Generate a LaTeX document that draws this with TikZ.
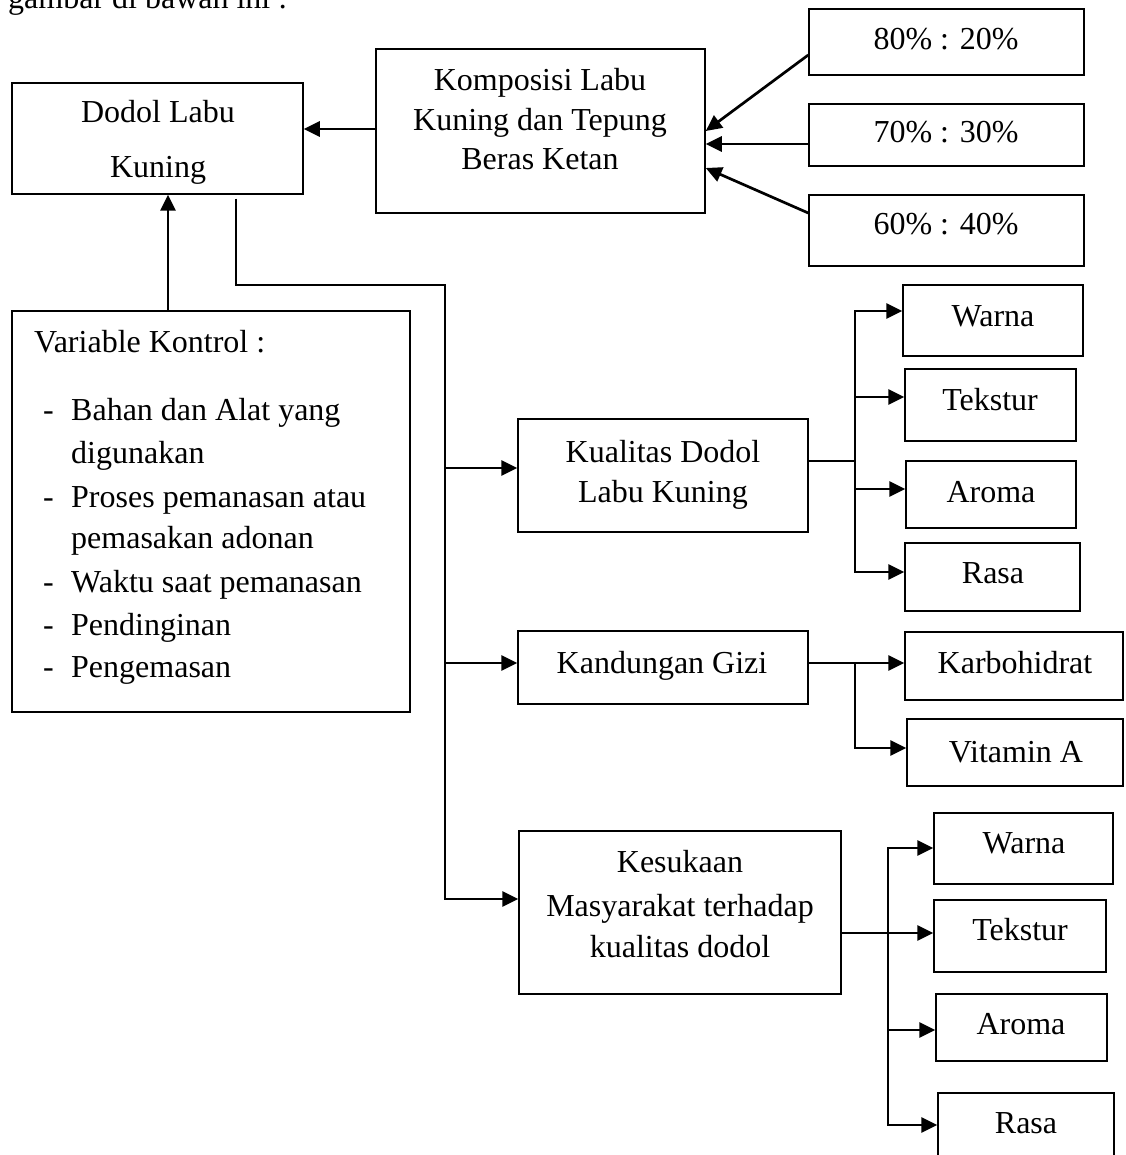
\documentclass[tikz,border=0pt]{standalone}
\usepackage{fontspec}
\setmainfont{Liberation Serif}
\usetikzlibrary{arrows.meta,fit}
\begin{document}
\begin{tikzpicture}[x=1pt,y=-1pt,
  box/.style={draw, line width=1.5pt, inner sep=0pt},
  txt/.style={inner sep=0pt, anchor=base, font=\fontsize{32}{40}\selectfont},
  txtl/.style={txt, anchor=base west},
  conn/.style={line width=1.9pt},
  arr/.style={line width=2.7pt, -{Triangle[length=16pt,width=15pt]}}]
\useasboundingbox (0,0) rectangle (1125,1155);

% intro line (cut off at top)
\node[txtl] (intro) at (8,9) {gambar di bawah ini :};

% boxes
\node[box, fit={(12,83) (303,194)}] (dodol) {};
\node[box, fit={(376,49) (705,213)}] (komp) {};
\node[box, fit={(809,9) (1084,75)}] (p80) {};
\node[box, fit={(809,104) (1084,166)}] (p70) {};
\node[box, fit={(809,195) (1084,266)}] (p60) {};
\node[box, fit={(12,311) (410,712)}] (vk) {};
\node[box, fit={(518,419) (808,532)}] (kual) {};
\node[box, fit={(903,285) (1083,356)}] (warnaA) {};
\node[box, fit={(905,369) (1076,441)}] (teksA) {};
\node[box, fit={(906,461) (1076,528)}] (aromaA) {};
\node[box, fit={(905,543) (1080,611)}] (rasaA) {};
\node[box, fit={(518,631) (808,704)}] (kand) {};
\node[box, fit={(905,632) (1123,700)}] (karbo) {};
\node[box, fit={(907,719) (1123,786)}] (vit) {};
\node[box, fit={(519,831) (841,994)}] (kes) {};
\node[box, fit={(934,813) (1113,884)}] (warnaB) {};
\node[box, fit={(934,900) (1106,972)}] (teksB) {};
\node[box, fit={(936,994) (1107,1061)}] (aromaB) {};
\node[box, fit={(938,1093) (1114,1175)}] (rasaB) {};

% texts
\node[txt] (dodolT1) at (158,123) {Dodol Labu};
\node[txt] (dodolT2) at (158,178) {Kuning};
\node[txt] (kompT1) at (540,91) {Komposisi Labu};
\node[txt] (kompT2) at (540,131) {Kuning dan Tepung};
\node[txt] (kompT3) at (540,170) {Beras Ketan};
\node[txt] (p80T) at (946,50) {80\% : 20\%};
\node[txt] (p70T) at (946,143) {70\% : 30\%};
\node[txt] (p60T) at (946,235) {60\% : 40\%};

\node[txtl] (vkH) at (34,352) {Variable Kontrol :};
\node[txtl] (vkD1) at (43,420) {-};
\node[txtl] (vkL1) at (71,420) {Bahan dan Alat yang};
\node[txtl] (vkL2) at (71,463) {digunakan};
\node[txtl] (vkD2) at (43,507) {-};
\node[txtl] (vkL3) at (71,507) {Proses pemanasan atau};
\node[txtl] (vkL4) at (71,548) {pemasakan adonan};
\node[txtl] (vkD3) at (43,592) {-};
\node[txtl] (vkL5) at (71,592) {Waktu saat pemanasan};
\node[txtl] (vkD4) at (43,635) {-};
\node[txtl] (vkL6) at (71,635) {Pendinginan};
\node[txtl] (vkD5) at (43,677) {-};
\node[txtl] (vkL7) at (71,677) {Pengemasan};

\node[txt] (kualT1) at (663,462) {Kualitas Dodol};
\node[txt] (kualT2) at (663,502) {Labu Kuning};
\node[txt] (warnaAT) at (993,326) {Warna};
\node[txt] (teksAT) at (990,410) {Tekstur};
\node[txt] (aromaAT) at (991,502) {Aroma};
\node[txt] (rasaAT) at (993,583) {Rasa};
\node[txt] (kandT) at (662,673) {Kandungan Gizi};
\node[txt] (karboT) at (1015,673) {Karbohidrat};
\node[txt] (vitT) at (1016,762) {Vitamin A};
\node[txt] (kesT1) at (680,872) {Kesukaan};
\node[txt] (kesT2) at (680,916) {Masyarakat terhadap};
\node[txt] (kesT3) at (680,957) {kualitas dodol};
\node[txt] (warnaBT) at (1024,853) {Warna};
\node[txt] (teksBT) at (1020,940) {Tekstur};
\node[txt] (aromaBT) at (1021,1034) {Aroma};
\node[txt] (rasaBT) at (1026,1133) {Rasa};

% top connectors
\draw[arr] (komp.west |- 0,129) -- (dodol.east |- 0,129);
\draw[arr] (p80.west |- 0,55) -- (komp.east |- 0,131);
\draw[arr] (p70.west |- 0,144) -- (komp.east |- 0,144);
\draw[arr] (p60.west |- 0,213) -- (komp.east |- 0,168);
\draw[arr] (vk.north -| 168,0) -- (dodol.south -| 168,0);

% main bus
\coordinate (busA) at (236,285);
\coordinate (busB) at (445,285);
\coordinate (busC) at (445,899);
\draw[conn, shorten <=4pt] (dodol.south -| busA) -- (busA) -- (busB) -- (busC);
\draw[arr] ([xshift=-0.9pt]busC) -- (kes.west |- busC);
\draw[arr] (445,468) -- (kual.west |- 0,468);
\draw[arr] (445,663) -- (kand.west |- 0,663);

% kualitas branch
\coordinate (kbT) at (855,311);
\coordinate (kbB) at (855,572);
\draw[conn] (kual.east |- 0,461) -- (855,461);
\draw[conn] (kbT) -- (kbB);
\draw[arr] ([xshift=-0.9pt]kbT) -- (warnaA.west |- kbT);
\draw[arr] (855,397) -- (teksA.west |- 0,397);
\draw[arr] (855,489) -- (aromaA.west |- 0,489);
\draw[arr] ([xshift=-0.9pt]kbB) -- (rasaA.west |- kbB);

% kandungan branch
\coordinate (gzB) at (855,748);
\draw[arr] (kand.east |- 0,663) -- (karbo.west |- 0,663);
\draw[conn] (855,663) -- (gzB);
\draw[arr] ([xshift=-0.9pt]gzB) -- (vit.west |- gzB);

% kesukaan branch
\coordinate (ksT) at (888,848);
\coordinate (ksB) at (888,1125);
\draw[conn] (kes.east |- 0,933) -- (888,933);
\draw[conn] (ksT) -- (ksB);
\draw[arr] ([xshift=-0.9pt]ksT) -- (warnaB.west |- ksT);
\draw[arr] (888,933) -- (teksB.west |- 0,933);
\draw[arr] (888,1030) -- (aromaB.west |- 0,1030);
\draw[arr] ([xshift=-0.9pt]ksB) -- (rasaB.west |- ksB);
\end{tikzpicture}
\end{document}
